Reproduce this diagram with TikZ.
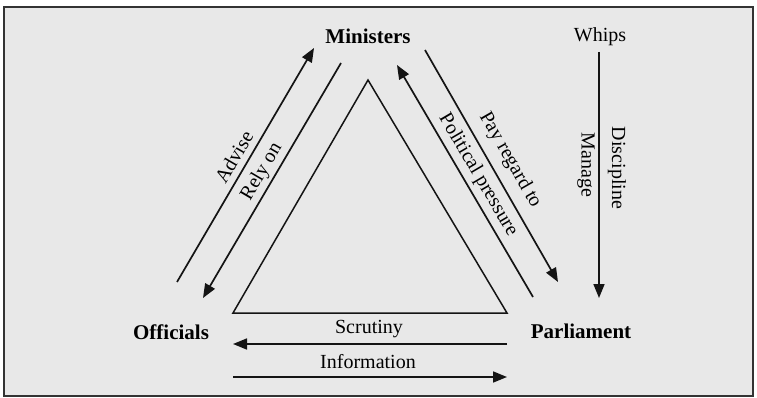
\documentclass[tikz,border=0pt]{standalone}
\usepackage{fontspec}
\setmainfont{Liberation Serif}
\usetikzlibrary{arrows.meta}
\begin{document}
\begin{tikzpicture}[x=1pt,y=-1pt,
  conn/.style={line width=1.7pt,draw=black!92},
  arr/.style={conn,-{Triangle[length=14pt,width=11pt]}},
  actor/.style={font=\fontsize{21}{24}\selectfont\bfseries,inner sep=0pt},
  lbl/.style={font=\fontsize{20}{23}\selectfont,inner sep=0pt},
  tri/.style={line width=1.5pt,draw=black!92}]
\useasboundingbox (0,0) rectangle (757,398);
\fill[white] (0,0) rectangle (757,398);
\draw[line width=1.8pt,draw=black!80,fill=black!9] (4,7) rectangle (753,396);
% actors
\node[actor] (min) at (368,36) {Ministers};
\node[lbl] (whips) at (600,37) {Whips};
\node[actor] (off) at (171,332) {Officials};
\node[actor] (parl) at (581,331) {Parliament};
% connector end points
\coordinate (advS) at (177,282); \coordinate (advE) at (314,48);
\coordinate (relS) at (341,63);  \coordinate (relE) at (203,298);
\coordinate (payS) at (425,50);  \coordinate (payE) at (558,282);
\coordinate (polS) at (533,297); \coordinate (polE) at (397,65);
\coordinate (whS) at (599,52);   \coordinate (whE) at (599,298);
\coordinate (scrS) at (507,344); \coordinate (scrE) at (233,344);
\coordinate (infS) at (233,377); \coordinate (infE) at (507,377);
% triangle
\coordinate (tA) at (368,80);
\coordinate (tB) at (233,313);
\coordinate (tC) at (507,313);
\draw[tri,line join=miter] (tA) -- (tB) -- (tC) -- cycle;
% arrows
\draw[arr] (advS) -- (advE);
\draw[arr] (relS) -- (relE);
\draw[arr] (payS) -- (payE);
\draw[arr] (polS) -- (polE);
\draw[arr] (whS) -- (whE);
\draw[arr] (scrS) -- (scrE);
\draw[arr] (infS) -- (infE);
% labels
\node[lbl,rotate=59.7] (advise) at (234,157) {Advise};
\node[lbl,rotate=59.6] (relyon) at (262,172) {Rely on};
\node[lbl,rotate=-60.2] (payreg) at (510,160) {Pay regard to};
\node[lbl,rotate=-59.6] (polpr) at (478,175) {Political pressure};
\node[lbl,rotate=-90] (manage) at (586,165) {Manage};
\node[lbl,rotate=-90] (disc) at (617,168) {Discipline};
\node[lbl] (scr) at (369,329) {Scrutiny};
\node[lbl] (info) at (368,362) {Information};
\end{tikzpicture}
\end{document}
